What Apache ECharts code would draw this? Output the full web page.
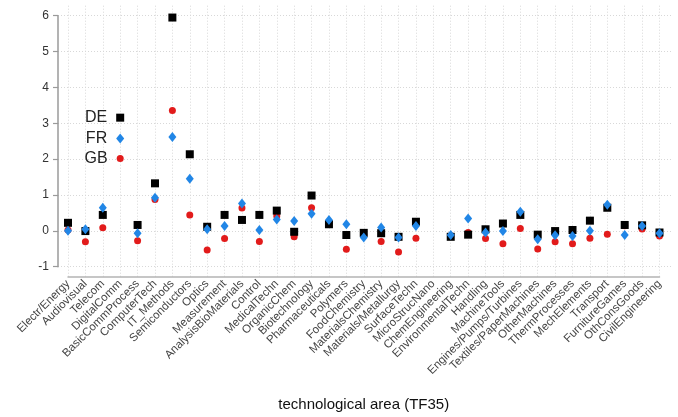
<!DOCTYPE html>
<html>
<head>
<meta charset="utf-8">
<script src="https://cdn.jsdelivr.net/npm/echarts@6/dist/echarts.min.js"></script>
<style>
  html, body { margin: 0; padding: 0; background: #fff; }
  #chart { width: 678px; height: 417px; }
</style>
</head>
<body>
<div id="chart"></div>
<script>
var categories = [
    'Electr/Energy', 'Audiovisual', 'Telecom', 'DigitalComm', 'BasicCommProcess',
    'ComputerTech', 'IT_Methods', 'Semiconductors', 'Optics', 'Measurement',
    'AnalysisBioMaterials', 'Control', 'MedicalTechn', 'OrganicChem', 'Biotechnology',
    'Pharmaceuticals', 'Polymers', 'FoodChemistry', 'MaterialsChemistry', 'Materials/Metallurgy',
    'SurfaceTechn', 'MicroStrucNano', 'ChemEngineering', 'EnvironmentalTechn', 'Handling',
    'MachineTools', 'Engines/Pumps/Turbines', 'Textiles/PaperMachines', 'OtherMachines', 'ThermProcesses',
    'MechElements', 'Transport', 'FurnitureGames', 'OthConsGoods', 'CivilEngineering'
];

var deValues = [
    0.23, 0.00, 0.45, 3.16, 0.17, 1.33, 5.95, 2.14, 0.12, 0.45,
    0.31, 0.45, 0.57, -0.02, 0.99, 0.19, -0.11, -0.05, -0.06, -0.16,
    0.26, null, -0.16, -0.10, 0.05, 0.21, 0.45, -0.10, 0.00, 0.03,
    0.29, 0.65, 0.17, 0.16, -0.04
];

var frValues = [
    0.01, 0.05, 0.65, 2.58, -0.06, 0.93, 2.62, 1.46, 0.05, 0.14,
    0.77, 0.03, 0.32, 0.28, 0.48, 0.31, 0.19, -0.18, 0.10, -0.18,
    0.14, null, -0.11, 0.35, -0.04, 0.00, 0.54, -0.23, -0.12, -0.14,
    0.01, 0.73, -0.11, 0.14, -0.06
];

var gbValues = [
    0.03, -0.30, 0.09, 2.02, -0.27, 0.88, 3.36, 0.45, -0.53, -0.21,
    0.64, -0.29, 0.42, -0.16, 0.65, 0.25, -0.51, -0.10, -0.29, -0.58,
    -0.20, null, -0.13, -0.04, -0.21, -0.35, 0.07, -0.50, -0.30, -0.35,
    -0.20, -0.09, 0.15, 0.06, -0.14
];

var yTicks = [-1, 0, 1, 2, 3, 4, 5, 6];

// the country names sit next to the DigitalComm points
var labelIdx = categories.indexOf('DigitalComm');
var font = "'Liberation Sans', Arial, Helvetica, sans-serif";

function toData(arr) {
    return arr.map(function (v) { return v === null ? '-' : v; });
}

function makeSeries(name, arr, symbol, size, color) {
    return {
        name: name,
        type: 'scatter',
        xAxisIndex: 0,
        yAxisIndex: 0,
        symbol: symbol,
        symbolSize: size,
        itemStyle: { color: color, opacity: 1 },
        data: toData(arr),
        label: {
            show: true,
            position: 'left',
            distance: 9,
            color: '#222',
            fontSize: 16,
            fontFamily: font,
            formatter: function (p) {
                return p.dataIndex === labelIdx ? p.seriesName : '';
            }
        },
        emphasis: { disabled: true }
    };
}

var chart = echarts.init(document.getElementById('chart'), null, { renderer: 'canvas' });

var hidden = { show: false };

var option = {
    animation: false,
    backgroundColor: '#fff',
    textStyle: { fontFamily: font },
    grid: [
        // data area, wider in y like R's default 4% padding
        { left: 68, right: 18.5, top: 5.7, bottom: 140, outerBoundsMode: 'none' },
        // y axis from -1 to 6 with horizontal grid lines
        { left: 58, right: 6, top: 15.7, bottom: 150.3, outerBoundsMode: 'none' }
    ],
    xAxis: [
        {
            gridIndex: 0,
            type: 'category',
            data: categories,
            boundaryGap: false,
            name: 'technological area (TF35)',
            nameLocation: 'middle',
            nameGap: 120,
            nameTextStyle: { color: '#111', fontSize: 15, fontFamily: font },
            axisLine: { show: true, onZero: false, lineStyle: { color: '#b4b4b4', width: 1.5 } },
            axisTick: { show: false },
            axisLabel: {
                interval: 0,
                rotate: 45,
                margin: 5,
                color: '#444',
                fontSize: 11.5,
                fontFamily: font
            },
            splitLine: { show: true, lineStyle: { color: '#d8d8d8', type: [1, 2], width: 1 } }
        },
        {
            gridIndex: 1,
            type: 'value',
            min: 0,
            max: 1,
            axisLine: { show: false, onZero: false },
            axisTick: hidden,
            axisLabel: hidden,
            splitLine: hidden
        }
    ],
    yAxis: [
        {
            gridIndex: 0,
            type: 'value',
            min: -1.28,
            max: 6.28,
            axisLine: { show: false, onZero: false },
            axisTick: hidden,
            axisLabel: hidden,
            splitLine: hidden
        },
        {
            gridIndex: 1,
            type: 'value',
            min: yTicks[0],
            max: yTicks[yTicks.length - 1],
            interval: 1,
            axisLine: { show: true, onZero: false, lineStyle: { color: '#9a9a9a', width: 1.5 } },
            axisTick: { show: true, length: 5, lineStyle: { color: '#9a9a9a', width: 1.2 } },
            axisLabel: { margin: 9, color: '#333', fontSize: 12, fontFamily: font },
            splitLine: { show: true, lineStyle: { color: '#d8d8d8', type: [1, 2], width: 1 } }
        }
    ],
    series: [
        makeSeries('GB', gbValues, 'circle', 7, '#e21b1b'),
        makeSeries('DE', deValues, 'rect', 8, '#000000'),
        makeSeries('FR', frValues, 'diamond', [8, 10], '#2186e6')
    ]
};

chart.setOption(option);
</script>
</body>
</html>
